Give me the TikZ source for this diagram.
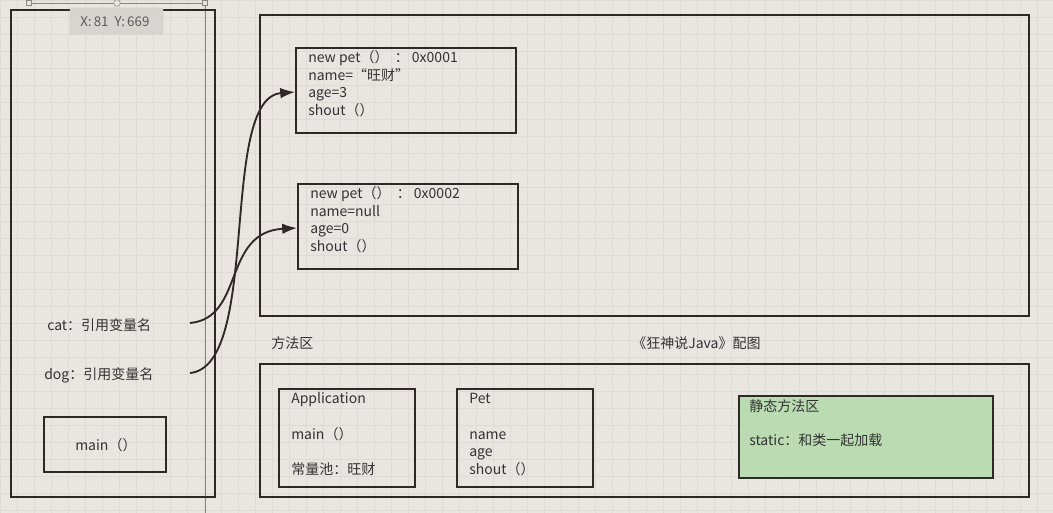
\documentclass[tikz,border=0pt]{standalone}
\usepackage{fontspec}
\setmainfont{Noto Sans CJK SC}
\usetikzlibrary{fit,arrows.meta}
\definecolor{bgc}{HTML}{E9E5E1}
\definecolor{gridc}{HTML}{DEDAD6}
\definecolor{edge}{HTML}{2E2826}
\definecolor{txt}{HTML}{333333}
\definecolor{greenc}{HTML}{BBDCB2}
\definecolor{tipc}{HTML}{D8D4D0}
\definecolor{selc}{HTML}{8A8682}
\tikzset{
  box/.style={draw=edge,line width=1.6pt,inner sep=0pt},
  lbl/.style={anchor=west,inner sep=0pt,text height=10pt,text depth=1.8pt,text=txt,font=\fontsize{10.5pt}{12pt}\selectfont},
  conn/.style={draw=edge,line width=1.4pt,-{Latex[length=11pt,width=8pt]}},
}
\begin{document}
\begin{tikzpicture}[x=0.75pt,y=-0.75pt]
\fill[bgc] (0,0) rectangle (1053,513);
\useasboundingbox (0,0) rectangle (1053,513);
\foreach \i in {0,17,...,1053} \draw[gridc,line width=0.4pt] (\i,0) -- (\i,513);
\foreach \j in {0,17,...,513} \draw[gridc,line width=0.4pt] (0,\j) -- (1053,\j);

% selection handles
\draw[selc,line width=0.6pt] (29,3) -- (205,3);
\draw[selc,line width=0.6pt] (205,3) -- (205,513);
\node[draw=selc,fill=bgc,minimum size=4pt,inner sep=0pt] (h1) at (29,3) {};
\node[draw=selc,fill=bgc,minimum size=4pt,inner sep=0pt] (h2) at (205,3) {};
\node[draw=selc,fill=bgc,circle,minimum size=5pt,inner sep=0pt] (h3) at (117,3) {};

% stack
\node[box,fit={(11,10) (215,497)}] (stack) {};
\node[fill=tipc,draw=tipc!90!black,line width=0.3pt,rounded corners=1pt,fit={(70,8) (163,34)},inner sep=0pt] (tip) {};
\node[lbl,font=\fontsize{10pt}{11pt}\selectfont,text=txt!80] (tiptext) at (80,21) {X:\,81\ \ Y:\,669};
\node[lbl] (cat) at (47,325) {cat：引用变量名};
\node[lbl] (dog) at (44,374) {dog：引用变量名};
\node[box,fit={(44,417) (166,472)}] (main) {};
\node[lbl] (maintext) at (75,445) {main（）};

% heap
\node[box,fit={(260,15) (1029,316)}] (heap) {};
\node[box,fit={(296,48) (516,133)}] (obj1) {};
\node[lbl] (o1a) at (308,57) {new pet（）\ \ ：\ 0x0001};
\node[lbl] (o1b) at (308,75) {name=“旺财”};
\node[lbl] (o1c) at (308,92) {age=3};
\node[lbl] (o1d) at (308,110) {shout（）};
\node[box,fit={(298,184) (518,269)}] (obj2) {};
\node[lbl] (o2a) at (310,193) {new pet（）\ \ ：\ 0x0002};
\node[lbl] (o2b) at (310,211) {name=null};
\node[lbl] (o2c) at (310,228) {age=0};
\node[lbl] (o2d) at (310,246) {shout（）};

% labels
\node[lbl] (fangfa) at (271,343) {方法区};
\node[lbl] (title) at (632,343) {《狂神说Java》配图};

% method area
\node[box,fit={(260,364) (1029,497)}] (method) {};
\node[box,fit={(279,389) (415,487)}] (app) {};
\node[lbl] (appa) at (291,398) {Application};
\node[lbl] (appb) at (291,434) {main（）};
\node[lbl] (appc) at (291,469) {常量池：旺财};
\node[box,fit={(457,389) (593,487)}] (pet) {};
\node[lbl] (peta) at (469,398) {Pet};
\node[lbl] (petb) at (469,434) {name};
\node[lbl] (petc) at (469,451) {age};
\node[lbl] (petd) at (469,469) {shout（）};
\node[box,fill=greenc,fit={(739,396) (993,478)}] (static) {};
\node[lbl] (sta) at (749,406) {静态方法区};
\node[lbl] (stb) at (749,440) {static：和类一起加载};

% connectors
\coordinate (catend) at (190,323);
\coordinate (dogend) at (190,373);
\draw[conn] (catend) .. controls (245,318) and (222,232) .. (obj2.west |- o2c.west);
\draw[conn] (dogend) .. controls (262,366) and (218,98) .. (obj1.west |- o1c.west);
\end{tikzpicture}
\end{document}
